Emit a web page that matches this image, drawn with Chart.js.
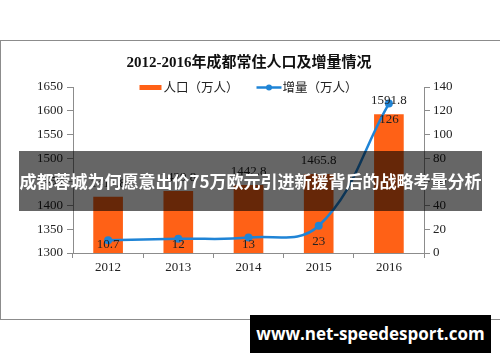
<!DOCTYPE html>
<html>
<head>
<meta charset="utf-8">
<script src="https://cdn.jsdelivr.net/npm/chart.js@4/dist/chart.umd.min.js"></script>
<style>
  body { margin: 0; width: 500px; height: 362px; overflow: hidden; background: #fff; position: relative; }
  .frame { position: absolute; left: 0; top: 40px; width: 520px; height: 280px; border: 1px solid #8c8c8c; box-sizing: border-box; }
  #chart { position: absolute; left: 0; top: 0; }
  .title { position: absolute; top: 50px; left: 0; width: 498px; text-align: center; line-height: 20px;
           font: bold 15px "Liberation Serif", "Noto Sans CJK SC", serif; color: #111; }
  .banner { position: absolute; left: 19px; top: 151px; width: 463px; height: 60px; background: rgba(0,0,0,0.6);
            color: #fff; font: bold 17px "Noto Sans CJK SC", sans-serif; line-height: 60px; text-align: center; white-space: nowrap; }
  .site { position: absolute; left: 250px; top: 315px; width: 241px; height: 38px; background: #000; color: #fff;
          font: bold 17px "Open Sans", sans-serif; line-height: 38px; text-align: center; }
</style>
</head>
<body>
<div class="frame"></div>
<canvas id="chart" width="500" height="362"></canvas>
<div class="title">2012-2016年成都常住人口及增量情况</div>
<div class="banner">成都蓉城为何愿意出价75万欧元引进新援背后的战略考量分析</div>
<div class="site">www.net-speedesport.com</div>

<script>
// -------------------------------
// Data
// -------------------------------
const years = ['2012', '2013', '2014', '2015', '2016'];
const population = [1417.8, 1429.8, 1442.8, 1465.8, 1591.8];
const increase = [10.7, 12, 13, 23, 126];
const leftTicks = [1300, 1650, 50];   // min, max, step
const rightTicks = [0, 140, 20];

const ORANGE = '#FF6116';
const BLUE = '#1F84D6';
const AXIS = '#8c8c8c';
const numFont = { family: '"Liberation Serif", "Noto Sans CJK SC", serif', size: 13 };

// -------------------------------
// Legend drawn inside the plot top
// -------------------------------
const legendPlugin = {
  id: 'topLegend',
  afterDraw(chart) {
    const ctx = chart.ctx;
    ctx.save();
    ctx.font = '12.5px "Noto Sans CJK SC", sans-serif';
    ctx.textBaseline = 'middle';
    const labels = chart.data.datasets.map(d => d.label);
    const sw = [22, 25];
    const gap = 18;
    const widths = labels.map((l, i) => sw[i] + 2 + ctx.measureText(l).width);
    let x = 249 - (widths[0] + widths[1] + gap) / 2;
    const y = 87.5;
    // bar swatch
    ctx.fillStyle = ORANGE;
    ctx.fillRect(x, y - 2.5, sw[0], 5);
    ctx.fillStyle = '#222';
    ctx.fillText(labels[0], x + sw[0] + 2, y);
    x += widths[0] + gap;
    // line swatch
    ctx.strokeStyle = BLUE;
    ctx.lineWidth = 2.5;
    ctx.beginPath();
    ctx.moveTo(x, y);
    ctx.lineTo(x + sw[1], y);
    ctx.stroke();
    ctx.fillStyle = BLUE;
    ctx.beginPath();
    ctx.arc(x + sw[1] / 2, y, 3, 0, Math.PI * 2);
    ctx.fill();
    ctx.fillStyle = '#222';
    ctx.fillText(labels[1], x + sw[1] + 1, y);
    ctx.restore();
  }
};

// -------------------------------
// Value labels
// -------------------------------
const labelPlugin = {
  id: 'valueLabels',
  afterDatasetsDraw(chart) {
    const ctx = chart.ctx;
    const area = chart.chartArea;
    ctx.save();
    ctx.font = numFont.size + 'px ' + numFont.family;
    ctx.fillStyle = '#222';
    ctx.textAlign = 'center';
    ctx.textBaseline = 'middle';
    chart.getDatasetMeta(0).data.forEach((bar, i) => {
      ctx.fillText(population[i].toFixed(1), bar.x, bar.y - 14);
    });
    chart.getDatasetMeta(1).data.forEach((pt, i) => {
      const y = Math.min(pt.y + 16, area.bottom - 8);
      ctx.fillText(String(increase[i]), pt.x, y);
    });
    ctx.restore();
  }
};

const axisGrid = { drawOnChartArea: false, drawTicks: true, tickLength: 6, color: AXIS };
const plain = v => String(v);

new Chart(document.getElementById('chart'), {
  data: {
    labels: years,
    datasets: [
      {
        type: 'bar',
        label: '人口（万人）',
        data: population,
        backgroundColor: ORANGE,
        yAxisID: 'y',
        barThickness: 29,
        order: 2
      },
      {
        type: 'line',
        label: '增量（万人）',
        data: increase,
        borderColor: BLUE,
        backgroundColor: BLUE,
        borderWidth: 2.5,
        pointRadius: 4,
        pointBorderWidth: 0,
        tension: 0.4,
        yAxisID: 'y1',
        order: 1
      }
    ]
  },
  options: {
    responsive: false,
    animation: false,
    layout: { padding: { top: 87, bottom: 79, left: 0, right: 0 } },
    plugins: { legend: { display: false }, title: { display: false }, tooltip: { enabled: false } },
    scales: {
      x: {
        grid: { drawOnChartArea: false, drawTicks: true, tickLength: 5, color: AXIS, offset: true },
        border: { color: AXIS },
        ticks: { font: numFont, color: '#222', padding: 2 },
        afterFit: s => { s.height = 30; }
      },
      y: {
        position: 'left',
        min: leftTicks[0], max: leftTicks[1],
        ticks: { stepSize: leftTicks[2], font: numFont, color: '#222', padding: 4, callback: plain },
        grid: axisGrid,
        border: { color: AXIS },
        afterFit: s => { s.width = 73; }
      },
      y1: {
        position: 'right',
        min: rightTicks[0], max: rightTicks[1],
        ticks: { stepSize: rightTicks[2], font: numFont, color: '#222', padding: 3, callback: plain },
        grid: axisGrid,
        border: { color: AXIS },
        afterFit: s => { s.width = 76; }
      }
    }
  },
  plugins: [legendPlugin, labelPlugin]
});
</script>
</body>
</html>
